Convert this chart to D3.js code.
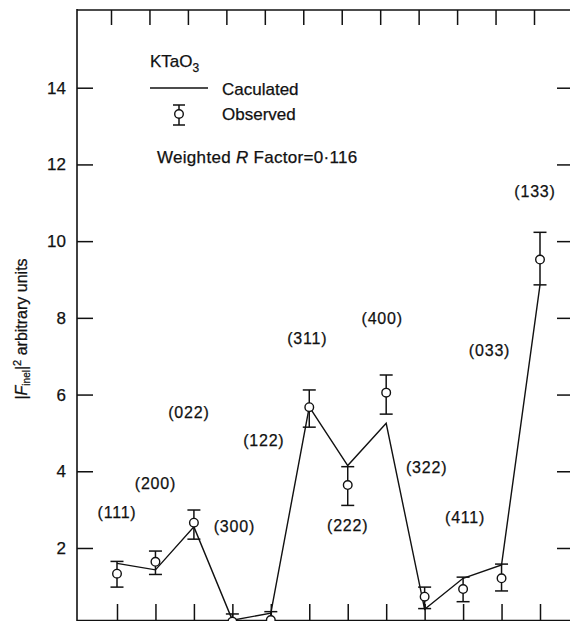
<!DOCTYPE html>
<html>
<head>
<meta charset="utf-8">
<script src="https://cdn.jsdelivr.net/npm/d3@7/dist/d3.min.js"></script>
<style>
  html, body { margin: 0; padding: 0; background: #fff; }
  svg { display: block; font-family: "Liberation Sans", Arial, Helvetica, sans-serif; }
  svg text { stroke: #111; stroke-width: 0.25px; }
</style>
</head>
<body>
<svg id="chart" width="570" height="621"></svg>
<script>
// ---- data ----
const reflections = ["(111)","(200)","(022)","(300)","(122)","(311)","(222)","(400)","(322)","(411)","(033)","(133)"];
const observed    = [1.33, 1.64, 2.66, 0.08, 0.12, 5.67, 3.64, 6.05, 0.73, 0.93, 1.21, 9.52];
const errLow      = [0.98, 1.31, 2.23, -0.12, -0.10, 5.15, 3.11, 5.49, 0.42, 0.60, 0.88, 8.86];
const errHigh     = [1.65, 1.92, 2.99, 0.28, 0.34, 6.12, 4.12, 6.51, 0.98, 1.24, 1.58, 10.23];
const calculated  = [1.60, 1.43, 2.55, 0.12, 0.30, 5.68, 4.15, 5.25, 0.40, 1.21, 1.56, 8.86];
const yTicks      = [2, 4, 6, 8, 10, 12, 14];

// ---- label placement (value units / pixel shifts) ----
const labelValue = [2.94, 3.69, 5.55, 2.57, 4.82, 7.47, 2.60, 7.99, 4.11, 2.81, 7.16, 11.3];
const labelShift = [0, 0, -5, 2, -7, -2, 0, -4, 2, 2, -12, -5];

(function () {
const svg = d3.select("#chart");
const mLeft = 77, mRight = 573, mTop = 10, mBottom = 621;

const x = d3.scalePoint().domain(reflections).range([117, 540]);
const y = d3.scaleLinear().domain([0, 16]).range([624.7, 11]);

const ink = "#111";

// frame lines
svg.append("line").attr("x1", mLeft).attr("x2", mLeft).attr("y1", mTop - 1).attr("y2", mBottom)
  .attr("stroke", ink).attr("stroke-width", 1.6);
svg.append("line").attr("x1", mLeft).attr("x2", mRight).attr("y1", mTop).attr("y2", mTop)
  .attr("stroke", ink).attr("stroke-width", 1.6);
svg.append("line").attr("x1", mLeft).attr("x2", mRight).attr("y1", mBottom - 0.5).attr("y2", mBottom - 0.5)
  .attr("stroke", ink).attr("stroke-width", 1.6);

// left axis
const gL = svg.append("g").attr("transform", `translate(${mLeft},0)`)
  .call(d3.axisLeft(y).tickValues(yTicks).tickSizeInner(-16).tickSizeOuter(0).tickPadding(11));
gL.select(".domain").remove();
gL.selectAll("line").attr("stroke", ink).attr("stroke-width", 1.5);
gL.selectAll("text").attr("font-size", 17).attr("fill", ink)
  .attr("font-family", "'Liberation Sans', Arial, sans-serif");

// right axis
const gR = svg.append("g").attr("transform", `translate(${mRight},0)`)
  .call(d3.axisRight(y).tickValues(yTicks).tickSizeInner(-16).tickSizeOuter(0).tickFormat(""));
gR.select(".domain").remove();
gR.selectAll("line").attr("stroke", ink).attr("stroke-width", 1.5);

// top axis
const gT = svg.append("g").attr("transform", `translate(-6,${mTop})`)
  .call(d3.axisTop(x).tickSizeInner(-15).tickSizeOuter(0).tickFormat(""));
gT.select(".domain").remove();
gT.selectAll("line").attr("stroke", ink).attr("stroke-width", 1.5);

// bottom axis
const gB = svg.append("g").attr("transform", `translate(0,${mBottom})`)
  .call(d3.axisBottom(x).tickSizeInner(-17).tickSizeOuter(0).tickFormat(""));
gB.select(".domain").remove();
gB.selectAll("line").attr("stroke", ink).attr("stroke-width", 1.5);

// calculated line
const line = d3.line().x((d, i) => x(reflections[i])).y(d => y(d));
svg.append("path").datum(calculated).attr("d", line)
  .attr("fill", "none").attr("stroke", ink).attr("stroke-width", 1.4);

// error bars
const cap = 6.5;
const eb = svg.append("g").attr("stroke", ink).attr("stroke-width", 1.5);
reflections.forEach((r, i) => {
  const cx = x(r);
  eb.append("line").attr("x1", cx).attr("x2", cx).attr("y1", y(errLow[i])).attr("y2", y(errHigh[i]));
  eb.append("line").attr("x1", cx - cap).attr("x2", cx + cap).attr("y1", y(errLow[i])).attr("y2", y(errLow[i]));
  eb.append("line").attr("x1", cx - cap).attr("x2", cx + cap).attr("y1", y(errHigh[i])).attr("y2", y(errHigh[i]));
});
svg.append("g").selectAll("circle").data(observed).join("circle")
  .attr("cx", (d, i) => x(reflections[i])).attr("cy", d => y(d)).attr("r", 4.3)
  .attr("fill", "#fff").attr("stroke", ink).attr("stroke-width", 1.4);

// reflection labels
svg.append("g").selectAll("text").data(reflections).join("text")
  .attr("x", (d, i) => x(d) + labelShift[i])
  .attr("y", (d, i) => y(labelValue[i]))
  .attr("dy", "0.36em")
  .attr("text-anchor", "middle")
  .attr("font-size", 16).attr("letter-spacing", 0.8).attr("fill", ink)
  .text(d => d);

// legend
const lg = svg.append("g").attr("fill", ink);
const kt = lg.append("text").attr("x", 150).attr("y", 67).attr("font-size", 17);
kt.append("tspan").text("KTaO");
kt.append("tspan").attr("font-size", 12).attr("dy", 5).text("3");

lg.append("line").attr("x1", 150).attr("x2", 208).attr("y1", 88).attr("y2", 88)
  .attr("stroke", ink).attr("stroke-width", 1.5);
lg.append("text").attr("x", 222).attr("y", 95).attr("font-size", 17).text("Caculated");

const lx = 179;
lg.append("line").attr("x1", lx).attr("x2", lx).attr("y1", 105).attr("y2", 125).attr("stroke", ink).attr("stroke-width", 1.5);
lg.append("line").attr("x1", lx - 6).attr("x2", lx + 6).attr("y1", 105).attr("y2", 105).attr("stroke", ink).attr("stroke-width", 1.5);
lg.append("line").attr("x1", lx - 6).attr("x2", lx + 6).attr("y1", 125).attr("y2", 125).attr("stroke", ink).attr("stroke-width", 1.5);
lg.append("circle").attr("cx", lx).attr("cy", 114).attr("r", 4.3).attr("fill", "#fff").attr("stroke", ink).attr("stroke-width", 1.4);
lg.append("text").attr("x", 222).attr("y", 120).attr("font-size", 17).text("Observed");

const wt = lg.append("text").attr("x", 157).attr("y", 163).attr("font-size", 17).attr("letter-spacing", 0.3);
wt.append("tspan").text("Weighted ");
wt.append("tspan").attr("font-style", "italic").text("R");
wt.append("tspan").text(" Factor=0·116");

// y axis title
const yt = svg.append("text").attr("transform", "translate(27,329) rotate(-90)")
  .attr("text-anchor", "middle").attr("font-size", 16).attr("fill", ink);
yt.append("tspan").text("|");
yt.append("tspan").attr("font-style", "italic").text("F");
yt.append("tspan").attr("font-size", 10).attr("dy", 3).text("inel");
yt.append("tspan").attr("dy", -3).text("|");
yt.append("tspan").attr("font-size", 11).attr("dy", -6).text("2");
yt.append("tspan").attr("dy", 6).text(" arbitrary units");
})();
</script>
</body>
</html>
